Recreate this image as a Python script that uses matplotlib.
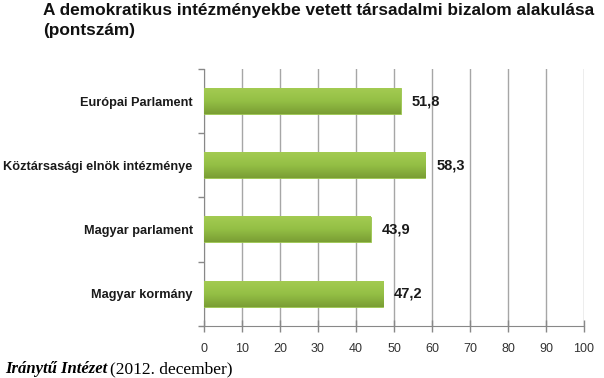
import numpy as np
import matplotlib
matplotlib.use("Agg")
import matplotlib.pyplot as plt
from matplotlib.colors import LinearSegmentedColormap

# data
categories = ["Európai Parlament", "Köztársasági elnök intézménye",
              "Magyar parlament", "Magyar kormány"]
values = [51.8, 58.3, 43.9, 47.2]
value_labels = ["51,8", "58,3", "43,9", "47,2"]
x_ticks = [0, 10, 20, 30, 40, 50, 60, 70, 80, 90, 100]

plt.rcParams['font.family'] = ['Liberation Sans', 'DejaVu Sans']

fig = plt.figure(figsize=(6.04, 3.78), dpi=100)
ax = fig.add_axes([0.3377, 0.1376, 0.6291, 0.68])

ypos = np.arange(len(categories))[::-1]
bars = ax.barh(ypos, values, height=0.4, color='#8DB83F', edgecolor='#9CC64E',
               linewidth=0.6, zorder=3)

# vertical gradient on each bar
grad_cmap = LinearSegmentedColormap.from_list("g", ["#A3CB52", "#94BF45", "#7A9E34"])
grad = np.linspace(0, 1, 64).reshape(-1, 1)
for b in bars:
    x0, y0, w, h = b.get_x(), b.get_y(), b.get_width(), b.get_height()
    ax.imshow(grad, cmap=grad_cmap, aspect='auto', extent=(x0, x0 + w, y0, y0 + h),
              origin='upper', zorder=3.5, interpolation='bilinear')

for y, v, lab in zip(ypos, values, value_labels):
    ax.text(v + 2.8, y, lab, va='center', ha='left', fontsize=10.5,
            fontweight='bold', color='#1a1a1a', zorder=4)

ax.set_xlim(0, 100)
ax.set_ylim(-0.5, len(categories) - 0.5)
ax.set_xticks(x_ticks)
ax.set_xticklabels([str(t) for t in x_ticks], fontsize=9, color='#333333')
ax.set_yticks(ypos)
ax.set_yticklabels(categories, fontsize=9.2, fontweight='bold', color='#1a1a1a')
ax.tick_params(axis='y', length=0, pad=8)
ax.set_yticks(np.arange(-0.5, len(categories), 1.0), minor=True)
ax.tick_params(axis='y', which='minor', length=4, color='#888888', width=1)
ax.tick_params(axis='x', direction='inout', length=8, color='#888888', width=1, pad=8)

ax.grid(axis='x', color='#A6A6A6', linewidth=1, zorder=0)
for s in ['top', 'right']:
    ax.spines[s].set_visible(False)
ax.spines['left'].set_color('#888888')
ax.spines['bottom'].set_color('#888888')

fig.text(0.071, 0.992, "A demokratikus intézményekbe vetett társadalmi bizalom alakulása\n(pontszám)",
         ha='left', va='top', fontsize=12.4, fontweight='bold', color='#111111',
         linespacing=1.4)

fig.text(0.008, 0.012, "Iránytű Intézet", ha='left', va='baseline', fontsize=12,
         fontweight='bold', fontstyle='italic', family=['Liberation Serif', 'DejaVu Serif'])
fig.text(0.182, 0.012, "(2012. december)", ha='left', va='baseline', fontsize=12.5,
         family=['Liberation Serif', 'DejaVu Serif'])

fig.savefig("out.png", dpi=100)
